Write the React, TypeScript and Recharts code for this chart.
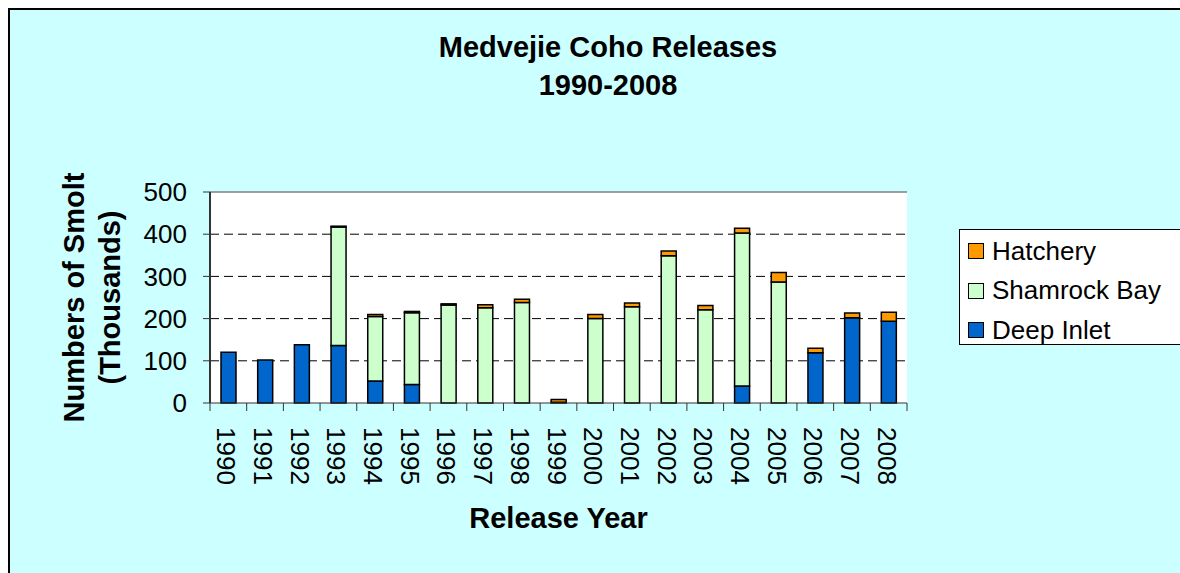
import {
  BarChart,
  Bar,
  XAxis,
  YAxis,
  CartesianGrid,
  ReferenceLine,
  Legend,
} from "recharts";

const YEARS = [
  "1990", "1991", "1992", "1993", "1994", "1995", "1996", "1997", "1998", "1999",
  "2000", "2001", "2002", "2003", "2004", "2005", "2006", "2007", "2008",
];
const DEEP_INLET = [120, 102, 138, 136, 52, 44, 0, 0, 0, 0, 0, 0, 0, 0, 40, 0, 119, 202, 194];
const SHAMROCK_BAY = [0, 0, 0, 281, 153, 170, 232, 226, 238, 2, 200, 228, 349, 221, 363, 287, 0, 0, 0];
const HATCHERY = [0, 0, 0, 2, 5, 3, 3, 7, 8, 6, 10, 9, 11, 10, 11, 22, 11, 11, 21];
const Y_TICKS = [0, 100, 200, 300, 400, 500];
const GRID_VALUES = [100, 200, 300, 400];

const FONT = "'Liberation Sans', Arial, sans-serif";

const SERIES = [
  { key: "hatchery", name: "Hatchery", color: "#FF9900" },
  { key: "shamrock", name: "Shamrock Bay", color: "#CCFFCC" },
  { key: "deep", name: "Deep Inlet", color: "#0066CC" },
];

const data = YEARS.map((year, i) => ({
  year,
  deep: DEEP_INLET[i],
  shamrock: SHAMROCK_BAY[i],
  hatchery: HATCHERY[i],
}));

function YearTick(props: any) {
  const { x, y, payload, index } = props;
  const half = payload.offset ?? 18.3;
  const last = index === YEARS.length - 1;
  return (
    <g>
      <line x1={x - half} x2={x - half} y1={y} y2={y + 8} stroke="#333" />
      {last && <line x1={x + half} x2={x + half} y1={y} y2={y + 8} stroke="#333" />}
      <text
        transform={`translate(${x - 2},${y + 24}) rotate(90)`}
        textAnchor="start"
        dominantBaseline="central"
        fontSize={26}
        fontFamily={FONT}
        fill="#000"
      >
        {payload.value}
      </text>
    </g>
  );
}

function YTitle(props: any) {
  const { x, y, height } = props.viewBox;
  const cy = y + height / 2;
  return (
    <g fontFamily={FONT} fontWeight="bold" fontSize={29} fill="#000">
      <text x={x - 46} y={cy} textAnchor="middle" transform={`rotate(-90, ${x - 46}, ${cy})`}>
        Numbers of Smolt
      </text>
      <text x={x - 10} y={cy} textAnchor="middle" transform={`rotate(-90, ${x - 10}, ${cy})`}>
        (Thousands)
      </text>
    </g>
  );
}

function XTitle(props: any) {
  const { x, y, width } = props.viewBox;
  return (
    <text
      x={x + width / 2}
      y={y + 125}
      textAnchor="middle"
      fontFamily={FONT}
      fontWeight="bold"
      fontSize={29}
      fill="#000"
    >
      Release Year
    </text>
  );
}

function LegendBox() {
  return (
    <div
      style={{
        border: "1.5px solid #000",
        background: "#fff",
        width: 240,
        height: 116,
        boxSizing: "border-box",
        position: "relative",
        fontFamily: FONT,
        fontSize: 26,
      }}
    >
      {SERIES.map((s, i) => (
        <div
          key={s.key}
          style={{
            position: "absolute",
            left: 8,
            top: 21 + i * 39.5 - 16,
            height: 32,
            display: "flex",
            alignItems: "center",
            whiteSpace: "nowrap",
          }}
        >
          <span
            style={{
              display: "inline-block",
              width: 14,
              height: 14,
              background: s.color,
              border: "1.5px solid #000",
              marginRight: 8,
            }}
          />
          <span>{s.name}</span>
        </div>
      ))}
    </div>
  );
}

export default function App() {
  return (
    <div
      style={{
        position: "fixed",
        left: 8,
        top: 8,
        width: 1170,
        height: 563,
        borderLeft: "2px solid #000",
        borderTop: "2px solid #000",
        background: "#CCFFFF",
        overflow: "hidden",
        fontFamily: FONT,
      }}
    >
      <div
        style={{
          position: "absolute",
          left: 0,
          top: 19,
          width: 1196,
          textAlign: "center",
          fontWeight: "bold",
          fontSize: 29,
          lineHeight: "37.6px",
          color: "#000",
        }}
      >
        Medvejie Coho Releases
        <br />
        1990-2008
      </div>
      <BarChart
        width={1170}
        height={563}
        data={data}
        margin={{ top: 182, right: 273, bottom: 70, left: 120 }}
        barCategoryGap="30%"
      >
        <CartesianGrid
          vertical={false}
          horizontalValues={GRID_VALUES}
          stroke="#000"
          strokeDasharray="9 5"
          fill="#fff"
        />
        <ReferenceLine y={500} stroke="#808080" strokeWidth={1.5} />
        <XAxis
          dataKey="year"
          interval={0}
          tickLine={false}
          tickSize={0}
          tickMargin={0}
          height={100}
          axisLine={{ stroke: "#333" }}
          tick={<YearTick />}
          label={<XTitle />}
        />
        <YAxis
          domain={[0, 500]}
          ticks={Y_TICKS}
          width={80}
          tickSize={7}
          tickMargin={16}
          axisLine={{ stroke: "#333", strokeWidth: 2 }}
          tickLine={{ stroke: "#333" }}
          tick={{ fontSize: 26, fontFamily: FONT, fill: "#000" }}
          label={<YTitle />}
        />
        <YAxis
          yAxisId="right"
          orientation="right"
          domain={[0, 500]}
          width={0}
          tick={false}
          tickLine={false}
          axisLine={{ stroke: "#808080", strokeWidth: 1.5 }}
        />
        <Legend
          layout="vertical"
          align="center"
          verticalAlign="middle"
          content={<LegendBox />}
          wrapperStyle={{ left: 949, top: 219, width: 240, height: 116 }}
        />
        <Bar dataKey="deep" name="Deep Inlet" stackId="a" fill="#0066CC" stroke="#000" strokeWidth={1.5} isAnimationActive={false} />
        <Bar dataKey="shamrock" name="Shamrock Bay" stackId="a" fill="#CCFFCC" stroke="#000" strokeWidth={1.5} isAnimationActive={false} />
        <Bar dataKey="hatchery" name="Hatchery" stackId="a" fill="#FF9900" stroke="#000" strokeWidth={1.5} isAnimationActive={false} />
      </BarChart>
    </div>
  );
}
